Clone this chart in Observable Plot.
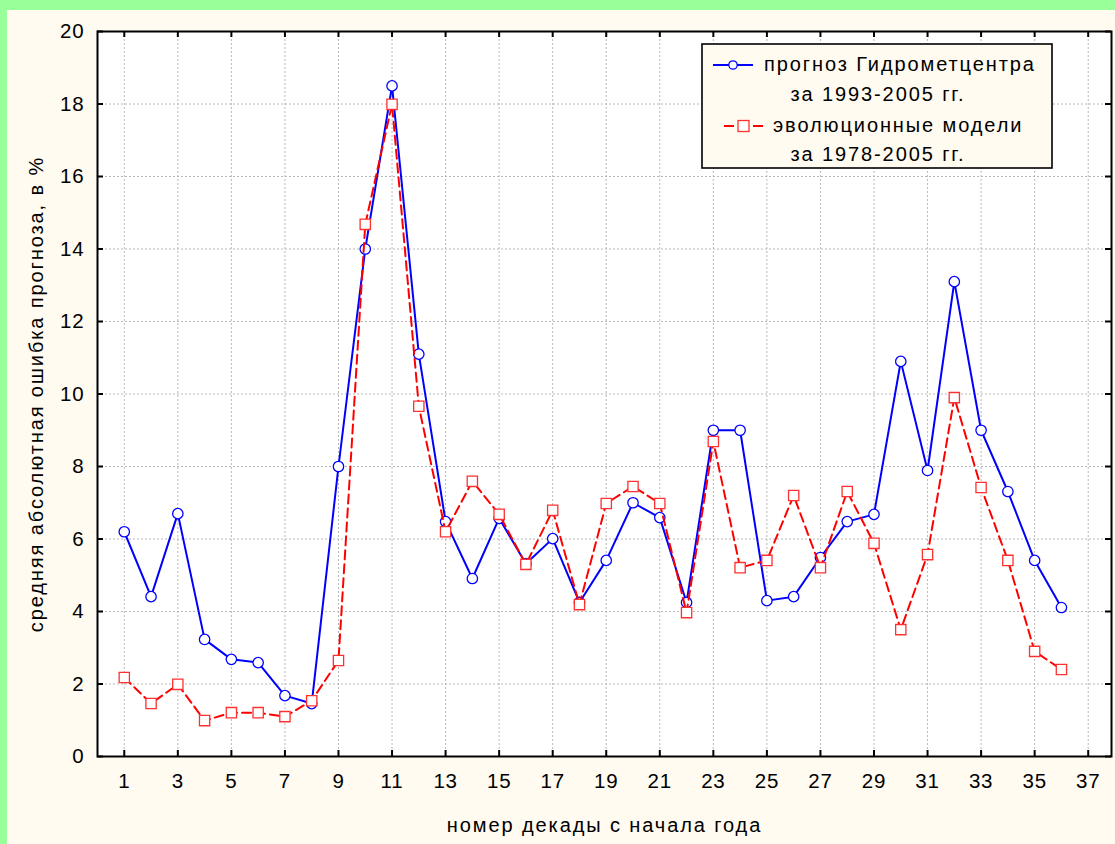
<!DOCTYPE html>
<html>
<head>
<meta charset="utf-8">
<script src="https://cdn.jsdelivr.net/npm/d3@7"></script>
<script src="https://cdn.jsdelivr.net/npm/@observablehq/plot@0.6"></script>
<style>
  html, body { margin: 0; padding: 0; background: #99ff99; }
  #wrap { position: relative; width: 1108px; height: 834px; padding-top: 10px; padding-left: 7px; background: #99ff99; }
  #chart { background: #fffbf0; width: 1108px; height: 834px; }
  svg { font-family: "Liberation Sans", Arial, sans-serif; }
</style>
</head>
<body>
<div id="wrap"><div id="chart"></div></div>
<script>
const decades = d3.range(1, 37);
const hydroValues = [6.2, 4.41, 6.7, 3.23, 2.68, 2.59, 1.68, 1.46, 8.0, 14.0, 18.5, 11.1, 6.48, 4.91, 6.57, 5.32, 6.01, 4.25, 5.41, 7.0, 6.59, 4.25, 9.0, 9.0, 4.3, 4.41, 5.49, 6.48, 6.68, 10.9, 7.89, 13.1, 9.0, 7.31, 5.41, 4.11];
const evoValues = [2.18, 1.46, 1.99, 0.99, 1.21, 1.21, 1.10, 1.54, 2.65, 14.68, 17.99, 9.66, 6.2, 7.59, 6.68, 5.3, 6.79, 4.19, 6.98, 7.45, 6.98, 3.97, 8.69, 5.21, 5.41, 7.2, 5.21, 7.31, 5.88, 3.5, 5.57, 9.9, 7.42, 5.41, 2.9, 2.4];
const xTicks = d3.range(1, 38, 2);
const yTicks = d3.range(0, 21, 2);
const seriesNames = ["прогноз Гидрометцентра", "за 1993-2005 гг.", "эволюционные модели", "за 1978-2005 гг."];
const yTitle = "средняя абсолютная ошибка прогноза, в %";
const xTitle = "номер декады с начала года";

const hydro = decades.map((d, i) => ({x: d, y: hydroValues[i]}));
const evo = decades.map((d, i) => ({x: d, y: evoValues[i]}));

const W = 1108, H = 834, mL = 90, mT = 21, mR = 4, mB = 88;
const pw = W - mL - mR, ph = H - mT - mB;
const tickLen = 6;

const plot = Plot.plot({
  width: W, height: H,
  marginLeft: mL, marginTop: mT, marginRight: mR, marginBottom: mB,
  style: {background: "transparent", fontFamily: "'Liberation Sans', Arial, sans-serif", color: "black"},
  x: {domain: [0, 37.87]},
  y: {domain: [0, 20]},
  marks: [
    Plot.frame({fill: "white", stroke: null}),
    Plot.gridX(xTicks, {stroke: "#b8b8b8", strokeOpacity: 1, strokeDasharray: "2,2"}),
    Plot.gridY(yTicks, {stroke: "#b8b8b8", strokeOpacity: 1, strokeDasharray: "2,2"}),
    Plot.tickX(xTicks, {x: d => d, insetTop: ph - tickLen, stroke: "black", strokeWidth: 2}),
    Plot.tickX(xTicks, {x: d => d, insetBottom: ph - tickLen, stroke: "black", strokeWidth: 2}),
    Plot.tickY(yTicks, {y: d => d, insetRight: pw - tickLen, stroke: "black", strokeWidth: 2}),
    Plot.tickY(yTicks, {y: d => d, insetLeft: pw - tickLen, stroke: "black", strokeWidth: 2}),
    Plot.axisX(xTicks, {tickSize: 0, tickPadding: 17, fontSize: 20.5, label: null}),
    Plot.axisY(yTicks, {tickSize: 0, tickPadding: 13, fontSize: 20.5, label: null}),
    Plot.line(hydro, {x: "x", y: "y", stroke: "#0000ff", strokeWidth: 2}),
    Plot.dot(hydro, {x: "x", y: "y", r: 5.2, stroke: "#0000ff", strokeWidth: 1.3, fill: "white"}),
    Plot.line(evo, {x: "x", y: "y", stroke: "#ff0000", strokeWidth: 2, strokeDasharray: "9,5"}),
    Plot.dot(evo, {x: "x", y: "y", symbol: "square", r: 5.8, stroke: "#ff3030", strokeWidth: 1.3, fill: "white"}),
    Plot.frame({stroke: "black", strokeWidth: 2}),
    Plot.text([yTitle], {frameAnchor: "left", dx: -61, rotate: -90, textAnchor: "middle", lineAnchor: "middle", fontSize: 20, fill: "black"}),
    Plot.text([xTitle], {frameAnchor: "bottom", dy: 69, textAnchor: "middle", lineAnchor: "middle", fontSize: 20, fill: "black"})
  ]
});

document.getElementById("chart").appendChild(plot);

const svg = d3.select(plot);
svg.selectAll("text").each(function() {
  const t = this.textContent;
  if (t === yTitle || t === xTitle) d3.select(this).attr("letter-spacing", "1.9px");
  else d3.select(this).attr("letter-spacing", "0.8px");
});

// legend inside the plot area (SVG coordinates)
const g = svg.append("g").attr("font-size", 20).attr("font-family", "'Liberation Sans', Arial, sans-serif");
g.append("rect").attr("x", 695).attr("y", 34).attr("width", 350).attr("height", 124)
  .attr("fill", "#fffbf0").attr("stroke", "black").attr("stroke-width", 1.6);
g.append("line").attr("x1", 706).attr("x2", 746).attr("y1", 55).attr("y2", 55).attr("stroke", "#0000ff").attr("stroke-width", 2);
g.append("circle").attr("cx", 726).attr("cy", 55).attr("r", 4.2).attr("fill", "white").attr("stroke", "#0000ff").attr("stroke-width", 1.3);
g.append("line").attr("x1", 717).attr("x2", 727).attr("y1", 116).attr("y2", 116).attr("stroke", "#ff0000").attr("stroke-width", 2);
g.append("line").attr("x1", 746).attr("x2", 756).attr("y1", 116).attr("y2", 116).attr("stroke", "#ff0000").attr("stroke-width", 2);
g.append("rect").attr("x", 731).attr("y", 110.5).attr("width", 11).attr("height", 11).attr("fill", "white").attr("stroke", "#ff3030").attr("stroke-width", 1.3);

const rows = [
  {t: seriesNames[0], x: 757, y: 54, a: "start"},
  {t: seriesNames[1], x: 871, y: 84, a: "middle"},
  {t: seriesNames[2], x: 766, y: 115, a: "start"},
  {t: seriesNames[3], x: 871, y: 144, a: "middle"}
];
rows.forEach(r => {
  g.append("text").attr("x", r.x).attr("y", r.y).attr("dy", "0.35em").attr("text-anchor", r.a)
    .attr("letter-spacing", "1.9px").attr("fill", "black").text(r.t);
});
</script>
</body>
</html>
